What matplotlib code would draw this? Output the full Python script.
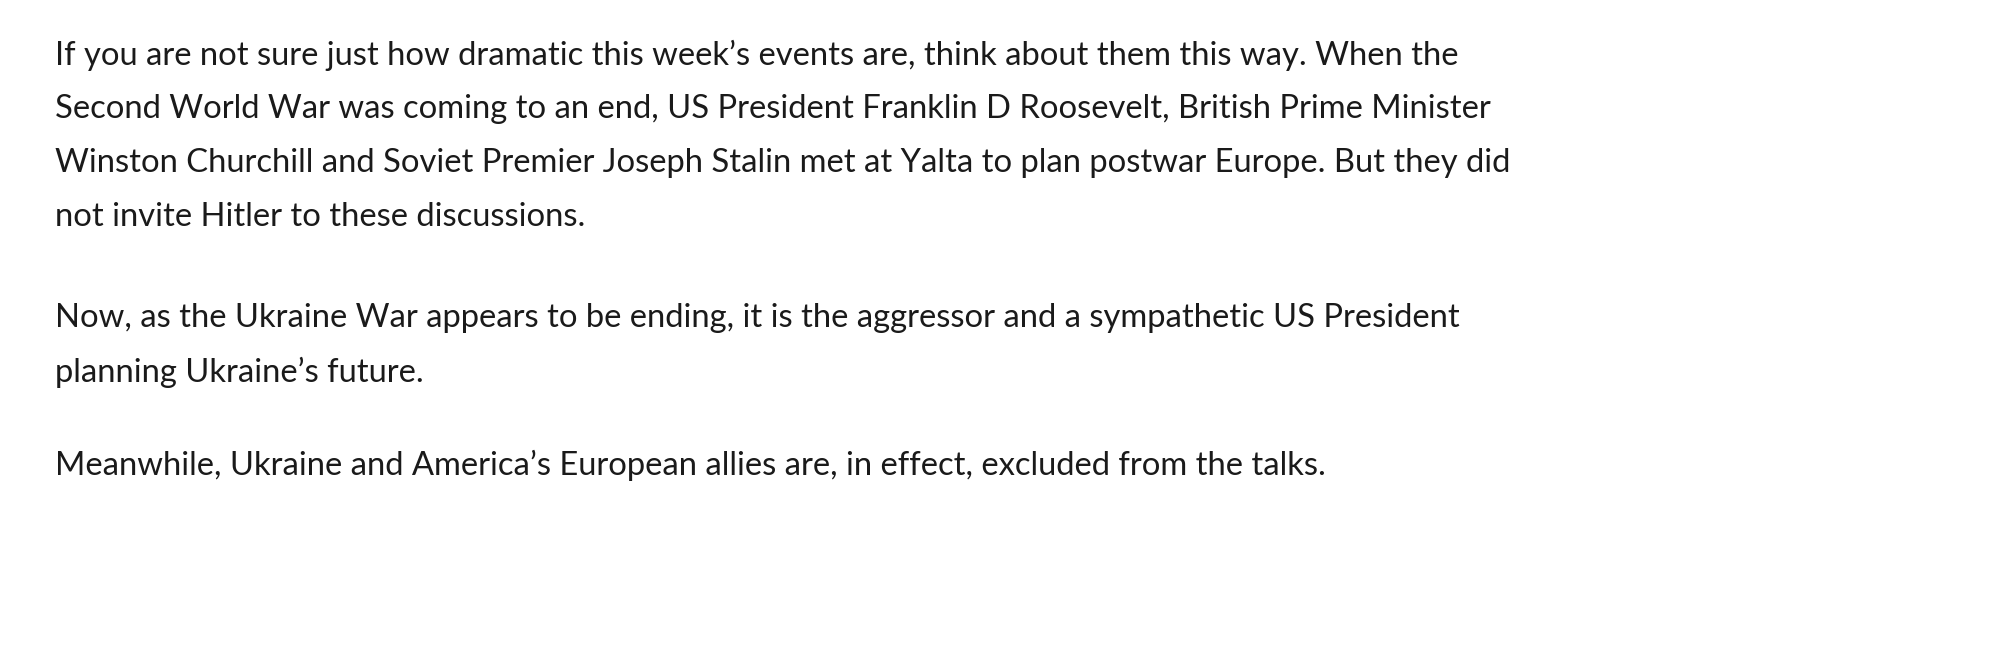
import matplotlib.pyplot as plt

# paragraph lines as they wrap in the reference
para1 = [
    "If you are not sure just how dramatic this week\u2019s events are, think about them this way. When the",
    "Second World War was coming to an end, US President Franklin D Roosevelt, British Prime Minister",
    "Winston Churchill and Soviet Premier Joseph Stalin met at Yalta to plan postwar Europe. But they did",
    "not invite Hitler to these discussions.",
]
para2 = [
    "Now, as the Ukraine War appears to be ending, it is the aggressor and a sympathetic US President",
    "planning Ukraine\u2019s future.",
]
para3 = [
    "Meanwhile, Ukraine and America\u2019s European allies are, in effect, excluded from the talks.",
]

W, H = 2000, 666
fig = plt.figure(figsize=(W / 100, H / 100), dpi=100)
fig.patch.set_facecolor("white")

# vertical centres (pixels from top) of each paragraph's first line
para_tops = [55, 318, 465]
line_step = 54

for top, lines in zip(para_tops, [para1, para2, para3]):
    for i, line in enumerate(lines):
        y = top + i * line_step
        fig.text(55 / W, 1 - y / H, line, ha="left", va="center",
                 fontsize=23.6, family="Lato", color="#1a1a1a")

fig.savefig("out.png", dpi=100, facecolor="white")
